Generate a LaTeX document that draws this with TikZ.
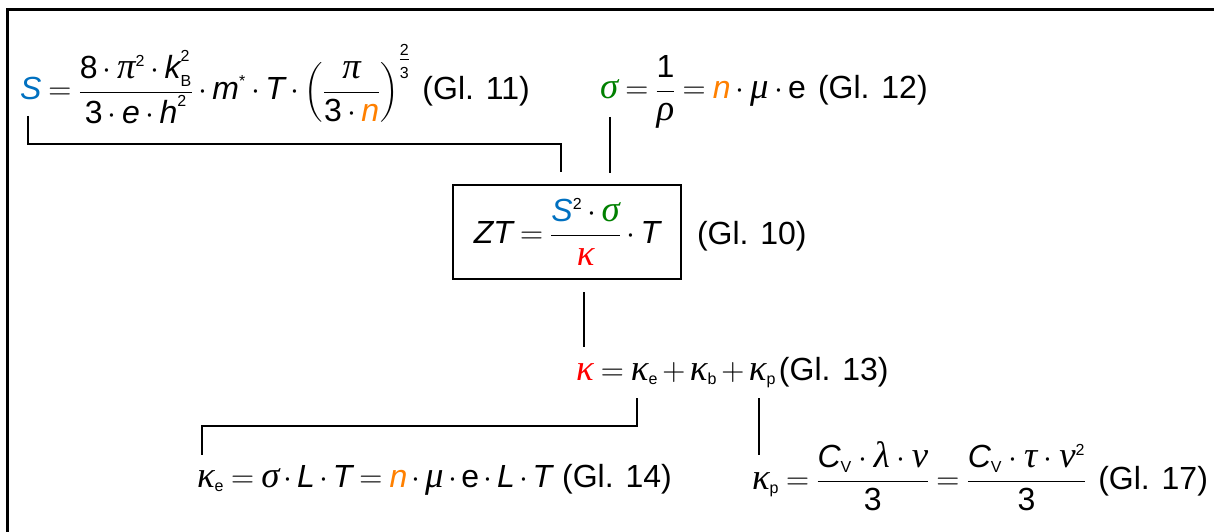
\RequirePackage{fix-cm}
\documentclass[tikz,border=0pt]{standalone}
\usepackage{amsmath}
\usepackage{fontspec}
\setmainfont{Liberation Sans}
\newfontfamily\symf[Scale=1.15]{Liberation Serif}
\DeclareMathSizes{32}{32}{16}{13}
\definecolor{sblue}{RGB}{0,112,192}
\definecolor{sgreen}{RGB}{0,128,0}
\definecolor{norange}{RGB}{255,128,0}
\definecolor{kred}{RGB}{255,0,0}
\newcommand\mi[1]{\text{\itshape #1}}
\newcommand\mr[1]{\text{#1}}
\newcommand\mg[1]{\text{\symf\itshape #1}}
\newcommand\eqfont{\fontsize{32}{38}\selectfont\medmuskip=3mu\relax\thickmuskip=4mu\relax}
\begin{document}
\begin{tikzpicture}[x=1pt,y=-1pt,
  eq/.style={inner sep=0pt, outer sep=0pt, anchor=base west, font=\eqfont},
  eqbox/.style={draw, line width=1.3pt, inner sep=0pt, minimum width=228pt, minimum height=94pt, font=\eqfont},
  conn/.style={line width=1.3pt},
  frameline/.style={line width=3pt}]
\useasboundingbox (0,0) rectangle (1214,532);
% frame
\draw[frameline] (7.5,545) -- (7.5,9.5) -- (1230,9.5);

% Gl. 11
\node[eq] (g11) at (20,100) {$\displaystyle \textcolor{sblue}{\mi{S}} = \frac{\mr{8}\cdot\mg{π}^{\mr{2}}\cdot\mi{k}_{\mr{B}}^{\mr{2}}}{\mr{3}\cdot\mi{e}\cdot\mi{h}^{\mr{2}}}\cdot\mi{m}^{\mr{*}}\cdot\mi{T}\cdot\left(\frac{\mg{π}}{\mr{3}\cdot\textcolor{norange}{\mi{n}}}\right)^{\genfrac{}{}{0.6pt}{1}{\mr{2}}{\mr{3}}}$\hspace{12pt}(Gl. 11)};

% Gl. 12
\node[eq] (g12) at (600,99) {$\displaystyle \textcolor{sgreen}{\mg{σ}} = \frac{\mr{1}}{\mg{ρ}} = \textcolor{norange}{\mi{n}}\cdot\mg{μ}\cdot\mr{e}$\hspace{12pt}(Gl. 12)};

% Gl. 10
\node[eqbox] (g10) at (567,232) {$\displaystyle \mi{ZT} = \frac{\textcolor{sblue}{\mi{S}}^{\mr{2}}\cdot\textcolor{sgreen}{\mg{σ}}}{\textcolor{kred}{\mg{κ}}}\cdot\mi{T}$};
\node[eq] (g10l) at (697,244) {(Gl. 10)};

% Gl. 13
\node[eq] (g13) at (576,380) {\medmuskip=2.5mu\relax$\textcolor{kred}{\mg{κ}} = \mg{κ}_{\mr{e}} + \mg{κ}_{\mr{b}} + \mg{κ}_{\mr{p}}$\hspace{3pt}(Gl. 13)};

% Gl. 14
\node[eq] (g14) at (197,487) {\medmuskip=2.5mu\relax$\mg{κ}_{\mr{e}} = \mg{σ}\cdot\mi{L}\cdot\mi{T} = \textcolor{norange}{\mi{n}}\cdot\mg{μ}\cdot\mr{e}\cdot\mi{L}\cdot\mi{T}$\hspace{10pt}(Gl. 14)};

% Gl. 17
\node[eq] (g17) at (752,489) {\medmuskip=3.7mu\relax$\displaystyle \mg{κ}_{\mr{p}} = \frac{\mi{C}_{\mr{V}}\cdot\mg{λ}\cdot\mg{ν}}{\mr{3}} = \frac{\mi{C}_{\mr{V}}\cdot\mg{τ}\cdot\mg{ν}^{\mr{2}}}{\mr{3}}$\hspace{12pt}(Gl. 17)};

% connector coordinates
\coordinate (sA) at (28,116);
\coordinate (sB) at (28,144);
\coordinate (sC) at (561,144);
\coordinate (sD) at (561,172);
\coordinate (oA) at (610,117);
\coordinate (oB) at (610,173);
\coordinate (kA) at (584,292);
\coordinate (kB) at (584,347);
\coordinate (eA) at (637,398);
\coordinate (eB) at (637,426);
\coordinate (eC) at (202,426);
\coordinate (eD) at (202,455);
\coordinate (pA) at (759,398);
\coordinate (pB) at (759,455);

\draw[conn] (sA) -- (sB) -- (sC) -- (sD);
\draw[conn] (oA) -- (oB);
\draw[conn] (kA) -- (kB);
\draw[conn] (eA) -- (eB) -- (eC) -- (eD);
\draw[conn] (pA) -- (pB);
\end{tikzpicture}
\end{document}
